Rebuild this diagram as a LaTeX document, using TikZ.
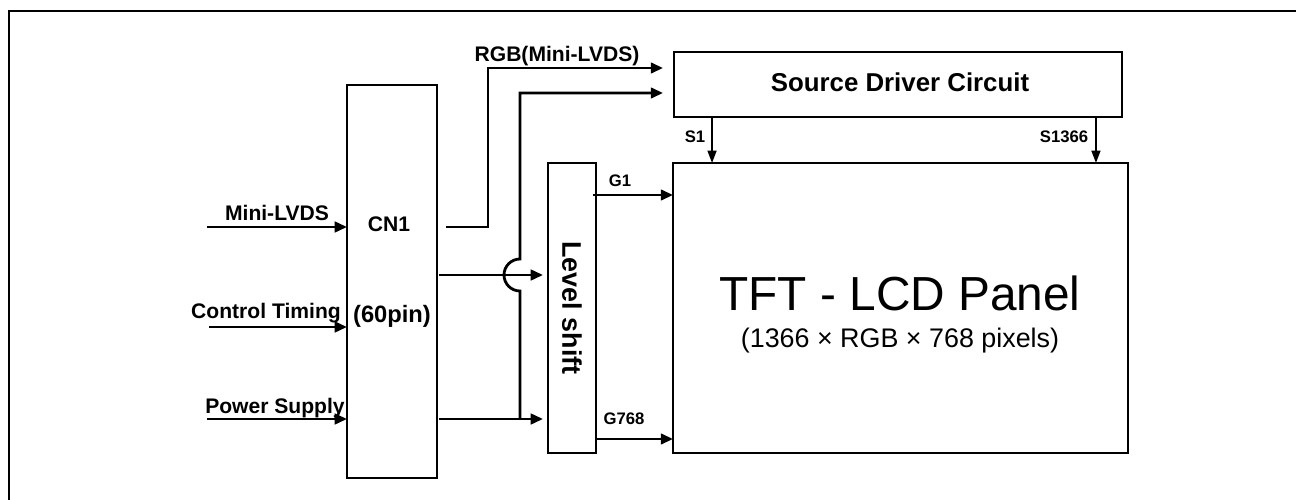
\documentclass[tikz,border=0pt]{standalone}
\usepackage{fontspec}
\setmainfont{Liberation Sans}
\usetikzlibrary{calc,arrows.meta}

\begin{document}
\begin{tikzpicture}[x=0.02cm, y=-0.02cm]
    % Styles for boxes and lines
    \tikzstyle{box} = [rectangle, draw=black, line width=0.8pt, inner sep=0pt, outer sep=0pt]
    \tikzstyle{arrow} = [line width=1.6pt, -{Triangle[length=7pt, width=6pt]}]
    \tikzstyle{thinarrow} = [line width=1.1pt, -{Triangle[length=7pt, width=5pt]}]
    \tikzstyle{siglabel} = [font=\bfseries\fontsize{12}{14}\selectfont, inner sep=0pt, anchor=base]
    \tikzstyle{linelabel} = [font=\bfseries\fontsize{9.5}{11}\selectfont, inner sep=0pt, anchor=base]

    \useasboundingbox (0,0) rectangle (1296,500);
    \draw[line width=1.3pt] (9,500) -- (9,11) -- (1296,11);

  % Nodes with explicit coordinates
    \node[box, minimum width=1.8cm, minimum height=7.86cm] (cn1) at (392,281.5) {};
    \node[box, line width=1.1pt, minimum width=0.96cm, minimum height=5.8cm] (lvl) at (572,308) {};
    \node[rotate=-90, inner sep=0pt, font=\bfseries\fontsize{15.3}{18}\selectfont] (lvltext) at (lvl) {Level shift};
    \node[box, minimum width=8.96cm, minimum height=1.3cm] (src) at (898,84.5) {};
    \node[inner sep=0pt, anchor=base, font=\bfseries\fontsize{14.7}{17}\selectfont] (srctext) at (900,92) {Source Driver Circuit};
    \node[box, minimum width=9.1cm, minimum height=5.8cm] (panel) at (900.5,308) {};
    \node[inner sep=0pt, anchor=base, font=\fontsize{27.2}{32}\selectfont] (paneltitle) at (900,310) {TFT - LCD Panel};
    \node[inner sep=0pt, anchor=base, font=\fontsize{15.3}{18}\selectfont] (panelres) at (900,347) {(1366 × RGB × 768 pixels)};

    \node[siglabel] (cn1text) at (389,232) {CN1};
    \node[siglabel, font=\bfseries\fontsize{13.5}{16}\selectfont] (pintext) at (392,322) {(60pin)};

  % Input signals
    \coordinate (mini) at (207,227);
    \coordinate (ctrl) at (209,327);
    \coordinate (power) at (207,419);
    \draw[arrow] (mini) -- (mini -| cn1.west);
    \draw[arrow] (ctrl) -- (ctrl -| cn1.west);
    \draw[arrow] (power) -- (power -| cn1.west);
    \node[siglabel] (minilabel) at (277,220) {Mini-LVDS};
    \node[siglabel] (ctrllabel) at (266,318) {Control Timing};
    \node[siglabel] (powerlabel) at (275,413) {Power Supply};

  % CN1 outputs
    \coordinate (rgbbend) at (488,68);
    \coordinate (bus) at (520,275);
    \coordinate (srcin1) at ([yshift=0.33cm]src.west);
    \coordinate (srcin2) at ([yshift=-0.17cm]src.west);
    \draw[arrow, shorten >=0.22cm] ([xshift=0.18cm]cn1.east |- mini) -- (rgbbend |- mini) -- (rgbbend |- srcin1) -- (srcin1);
    \node[siglabel] (rgblabel) at (557,62) {RGB(Mini-LVDS)};
    \draw[arrow, shorten >=0.22cm] (bus |- power) -- ([yshift=-0.32cm]bus) arc[start angle=-90, end angle=-270, radius=0.32cm] -- (bus |- srcin2) -- (srcin2);
    \draw[arrow, shorten >=0.1cm] ([xshift=0.04cm]cn1.east |- bus) -- (lvl.west |- bus);
    \draw[arrow, shorten >=0.1cm] ([xshift=0.04cm]cn1.east |- power) -- (lvl.west |- power);

  % Gate and source lines
    \coordinate (g1) at (0,195);
    \coordinate (g768) at (0,439);
    \draw[arrow] ([xshift=-0.06cm]lvl.east |- g1) -- (panel.west |- g1);
    \draw[arrow] ([xshift=0.02cm]lvl.east |- g768) -- (panel.west |- g768);
    \node[linelabel] (g1label) at (620,187) {G1};
    \node[linelabel] (g768label) at (624,424) {G768};
    \draw[thinarrow] ([xshift=0.76cm]src.south west) -- ([xshift=0.76cm]src.south west |- panel.north);
    \draw[thinarrow] ([xshift=-0.52cm]src.south east) -- ([xshift=-0.52cm]src.south east |- panel.north);
    \node[linelabel] (s1label) at (695,143) {S1};
    \node[linelabel] (s1366label) at (1064,143) {S1366};

\end{tikzpicture}
\end{document}
